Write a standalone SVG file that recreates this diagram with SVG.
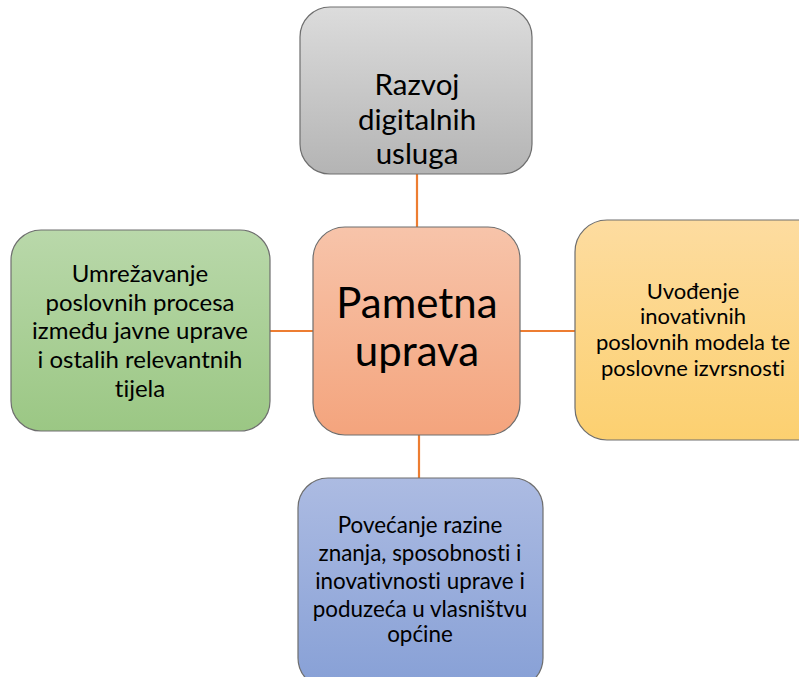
<svg xmlns="http://www.w3.org/2000/svg" width="799" height="677" viewBox="0 0 799 677">
<style>
.box{stroke:#6e6e6e;stroke-width:1.2}
.t{font-family:Lato,"Open Sans","Liberation Sans",sans-serif;fill:#000;text-anchor:middle;font-variant-ligatures:none;font-feature-settings:"liga" 0}
.c{stroke:#ED7D31;stroke-width:2.2;fill:none}
</style>
<defs>
<linearGradient id="gGray" x1="0" y1="0" x2="0" y2="1"><stop offset="0" stop-color="#dcdcdc"/><stop offset="1" stop-color="#b4b4b4"/></linearGradient>
<linearGradient id="gOr" x1="0" y1="0" x2="0" y2="1"><stop offset="0" stop-color="#f7c4aa"/><stop offset="1" stop-color="#f4a47d"/></linearGradient>
<linearGradient id="gGr" x1="0" y1="0" x2="0" y2="1"><stop offset="0" stop-color="#b9d8aa"/><stop offset="1" stop-color="#9bc784"/></linearGradient>
<linearGradient id="gYe" x1="0" y1="0" x2="0" y2="1"><stop offset="0" stop-color="#fddca0"/><stop offset="1" stop-color="#fcd070"/></linearGradient>
<linearGradient id="gBl" x1="0" y1="0" x2="0" y2="1"><stop offset="0" stop-color="#acbbe2"/><stop offset="1" stop-color="#87a0d6"/></linearGradient>
</defs>
<g id="connectors">
<line class="c" x1="417" y1="174" x2="417" y2="227"/>
<line class="c" x1="270" y1="331" x2="313" y2="331"/>
<line class="c" x1="520" y1="331" x2="575" y2="331"/>
<line class="c" x1="419" y1="435" x2="419" y2="478"/>
</g>
<g id="node-top">
<rect class="box" x="300" y="7" width="232" height="167" rx="30" fill="url(#gGray)"/>
<text class="t" font-size="29.5"><tspan x="417" y="95">Razvoj</tspan><tspan x="417" y="130">digitalnih</tspan><tspan x="417" y="164">usluga</tspan></text>
</g>
<g id="node-center">
<rect class="box" x="313" y="227" width="207" height="208" rx="32" fill="url(#gOr)"/>
<text class="t" font-size="42"><tspan x="417" y="318">Pametna</tspan><tspan x="417" y="366">uprava</tspan></text>
</g>
<g id="node-left">
<rect class="box" x="11" y="230" width="259" height="201" rx="30" fill="url(#gGr)"/>
<text class="t" font-size="24"><tspan x="140" y="282">Umrežavanje</tspan><tspan x="140" y="311">poslovnih procesa</tspan><tspan x="140" y="339">između javne uprave</tspan><tspan x="140" y="368">i ostalih relevantnih</tspan><tspan x="140" y="397">tijela</tspan></text>
</g>
<g id="node-right">
<rect class="box" x="575" y="220" width="260" height="220" rx="32" fill="url(#gYe)"/>
<text class="t" font-size="22"><tspan x="693" y="299">Uvođenje</tspan><tspan x="693" y="324">inovativnih</tspan><tspan x="693" y="350">poslovnih modela te</tspan><tspan x="693" y="376">poslovne izvrsnosti</tspan></text>
</g>
<g id="node-bottom">
<rect class="box" x="298" y="478" width="245" height="210" rx="30" fill="url(#gBl)"/>
<text class="t" font-size="22.4"><tspan x="420" y="533">Povećanje razine</tspan><tspan x="420" y="561">znanja, sposobnosti i</tspan><tspan x="420" y="589">inovativnosti uprave i</tspan><tspan x="420" y="617">poduzeća u vlasništvu</tspan><tspan x="420" y="642">općine</tspan></text>
</g>
</svg>
